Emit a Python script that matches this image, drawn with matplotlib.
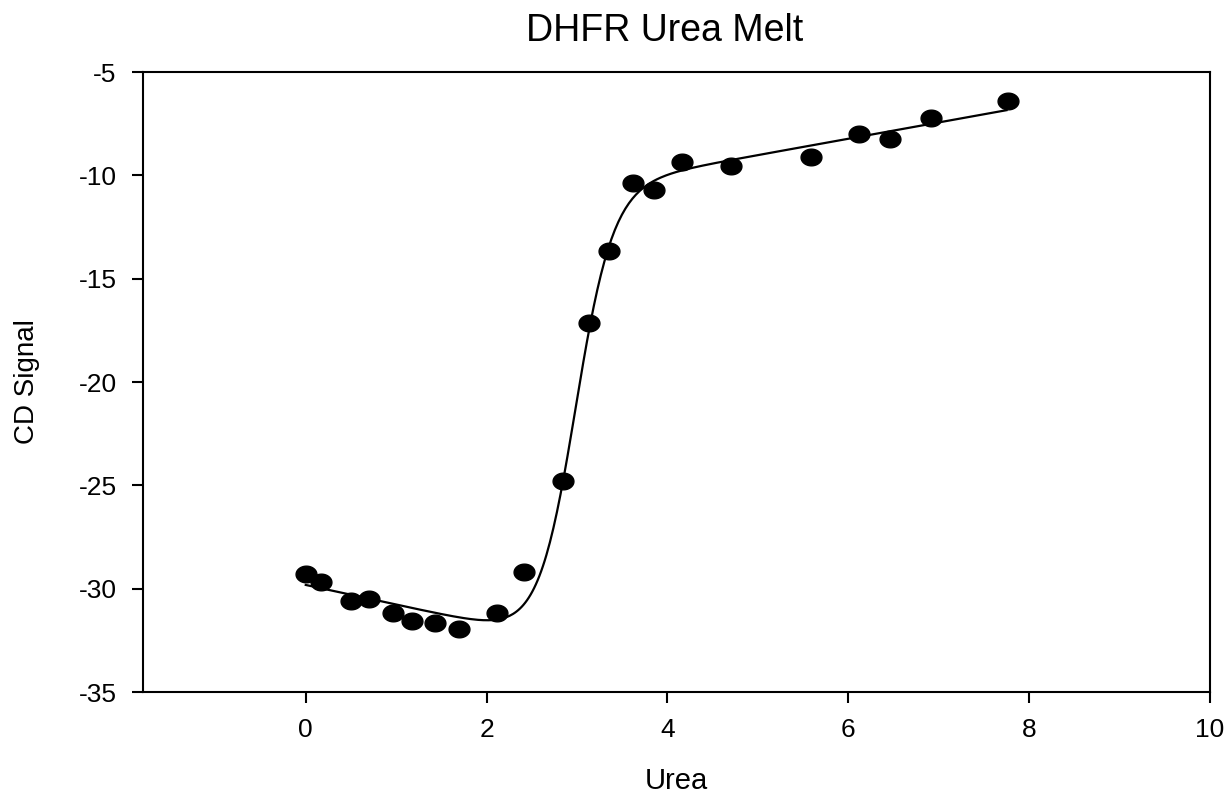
import numpy as np
import matplotlib.pyplot as plt
from matplotlib.path import Path

plt.rcParams['font.family'] = ['Liberation Sans', 'DejaVu Sans']
plt.rcParams['axes.unicode_minus'] = False

# urea concentration and measured CD signal
urea = [0.0, 0.17, 0.50, 0.70, 0.97, 1.17, 1.43, 1.70, 2.11, 2.41, 2.85,
        3.13, 3.35, 3.62, 3.85, 4.16, 4.70, 5.59, 6.12, 6.46, 6.91, 7.77]
cd_signal = [-29.29, -29.67, -30.59, -30.50, -31.17, -31.56, -31.66, -31.95,
             -31.17, -29.19, -24.79, -17.14, -13.66, -10.37, -10.71, -9.35,
             -9.55, -9.11, -8.00, -8.24, -7.23, -6.40]

# two-state fit: native baseline, unfolded baseline, midpoint, steepness
native_fit = (-29.82, -0.95)
unfolded_fit = (-12.97, 0.79)
midpoint = 2.97
steepness = 4.8
fit_range = (0.0, 7.75)

xf = np.linspace(fit_range[0], fit_range[1], 400)
yn = native_fit[0] + native_fit[1] * xf
yu = unfolded_fit[0] + unfolded_fit[1] * xf
frac = 1.0 / (1.0 + np.exp(-steepness * (xf - midpoint)))
yf = yn + frac * (yu - yn)

# slightly flattened dot
t = np.linspace(0, 2 * np.pi, 60)
dot = Path(np.column_stack([np.cos(t), 0.8 * np.sin(t)]), closed=True)

fig = plt.figure(figsize=(12.3, 7.98), dpi=100)
ax = fig.add_axes([143 / 1230, 1 - 692 / 798, (1210 - 143) / 1230, (692 - 72) / 798])

ax.plot(xf, yf, color='black', lw=1.6, zorder=2)
ax.plot(urea, cd_signal, linestyle='none', marker=dot, markersize=15,
        color='black', zorder=3)

ax.set_xlim(-1.8, 10)
ax.set_ylim(-35, -5)
ax.set_xticks([0, 2, 4, 6, 8, 10])
ax.set_yticks([-35, -30, -25, -20, -15, -10, -5])
ax.tick_params(direction='out', length=8, width=1.5, labelsize=19)
ax.tick_params(axis='x', pad=11)
ax.tick_params(axis='y', pad=11)
for s in ax.spines.values():
    s.set_linewidth(1.5)

ax.set_xlabel('Urea', fontsize=21, labelpad=18)
ax.set_ylabel('CD Signal', fontsize=20, labelpad=28)
fig.text(665 / 1230, 1 - 31 / 798, 'DHFR Urea Melt', fontsize=27,
         ha='center', va='center')

fig.savefig('out.png', dpi=100)
